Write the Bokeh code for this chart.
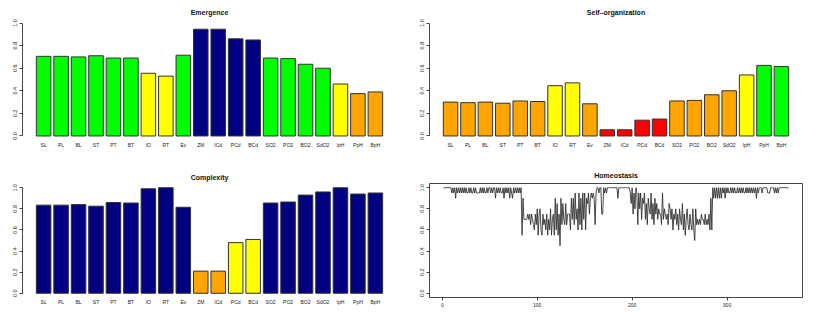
from bokeh.plotting import figure
from bokeh.layouts import gridplot
from bokeh.models import FixedTicker, ColumnDataSource
from bokeh.embed import file_html
from bokeh.resources import INLINE

categories = ["SL", "PL", "BL", "ST", "PT", "BT", "IO", "RT", "Ev", "ZM", "ICd",
              "PCd", "BCd", "SO2", "PO2", "BO2", "SdO2", "IpH", "PpH", "BpH"]

emergence = [0.705, 0.705, 0.70, 0.71, 0.69, 0.69, 0.555, 0.53, 0.715, 0.945, 0.945,
             0.86, 0.85, 0.69, 0.685, 0.635, 0.60, 0.46, 0.375, 0.39]
emergence_col = ["g", "g", "g", "g", "g", "g", "y", "y", "g", "n", "n",
                 "n", "n", "g", "g", "g", "g", "y", "o", "o"]

selforg = [0.30, 0.295, 0.30, 0.29, 0.31, 0.305, 0.445, 0.47, 0.285, 0.055, 0.055,
           0.14, 0.15, 0.31, 0.315, 0.365, 0.40, 0.54, 0.625, 0.615]
selforg_col = ["o", "o", "o", "o", "o", "o", "y", "y", "o", "r", "r",
               "r", "r", "o", "o", "o", "o", "y", "g", "g"]

complexity = [0.835, 0.835, 0.84, 0.825, 0.86, 0.855, 0.99, 1.0, 0.815, 0.21, 0.21,
              0.48, 0.51, 0.855, 0.865, 0.93, 0.96, 1.0, 0.94, 0.95]
complexity_col = ["n", "n", "n", "n", "n", "n", "n", "n", "n", "o", "o",
                  "y", "y", "n", "n", "n", "n", "n", "n", "n"]

homeo_1 = [1.0, 1.0, 1.0, 1.0, 1.0, 1.0, 1.0, 1.0, 1.0, 0.95,
           1.0, 0.95, 1.0, 0.9, 1.0, 0.95, 1.0, 0.95, 1.0, 0.95,
           1.0, 0.95, 1.0, 0.95, 1.0, 0.95, 0.95, 1.0, 0.95, 1.0,
           0.95, 0.95, 1.0, 0.95, 1.0, 0.95, 0.95, 0.95, 0.95, 1.0,
           0.95, 1.0, 0.95, 1.0, 0.95, 0.95, 1.0, 0.95, 1.0, 1.0,
           0.95, 1.0, 0.95, 1.0, 1.0, 0.9, 1.0, 0.95, 1.0, 0.95,
           1.0, 0.95, 0.95, 1.0, 0.9, 1.0, 0.95, 1.0, 0.95, 1.0,
           0.9, 1.0, 0.95, 0.9, 1.0, 0.95, 1.0, 0.95, 1.0, 0.95,
           1.0, 0.95, 1.0]
homeo_2 = [0.55, 0.9, 0.7, 0.7, 0.7, 0.7, 0.75, 0.7, 0.75, 0.65,
           0.75, 0.7, 0.65, 0.6, 0.75, 0.65, 0.8, 0.55, 0.75, 0.8,
           0.6, 0.55, 0.75, 0.65, 0.7, 0.6, 0.75, 0.55, 0.7, 0.6,
           0.8, 0.55, 0.7, 0.75, 0.55, 0.9, 0.6, 0.85, 0.55, 0.75,
           0.45, 0.9, 0.65, 0.85, 0.7, 0.65, 0.85, 0.65, 0.75, 0.75,
           0.75, 0.6, 0.9, 0.7, 0.9, 0.65, 0.95, 0.7, 0.8, 0.6,
           0.95, 0.65, 0.9, 0.6, 0.95, 0.7, 0.95, 0.6, 0.9, 0.85,
           0.95, 0.75, 0.9, 0.95, 0.9, 0.95, 0.9, 0.65, 0.95, 1.0,
           1.0, 0.95]
homeo_3 = [1.0, 1.0, 0.75, 0.75, 1.0, 0.95, 1.0, 0.95, 1.0, 1.0,
           1.0, 1.0, 1.0, 1.0, 1.0, 1.0, 1.0, 1.0, 1.0, 0.9,
           1.0, 1.0, 1.0, 1.0, 1.0, 1.0, 1.0, 1.0, 1.0, 1.0,
           1.0, 1.0, 0.95, 0.85, 1.0, 0.75, 0.95]
homeo_4 = [0.8, 1.0, 0.95, 0.65, 0.95, 0.8, 0.95, 0.7, 0.9, 0.85,
           0.95, 0.7, 0.85, 0.65, 0.9, 0.8, 0.75, 0.95, 0.7, 0.85,
           0.65, 0.9, 0.75, 0.85, 0.7, 0.8, 0.75, 0.75, 0.65, 0.95,
           0.7, 0.8, 0.75, 0.7, 0.75, 0.65, 0.85, 0.8, 0.7, 0.8,
           0.6, 0.75, 0.7, 0.8, 0.65, 0.75, 0.6, 0.8, 0.7, 0.65,
           0.85, 0.6, 0.75, 0.55, 0.7, 0.8, 0.65, 0.6, 0.75, 0.65,
           0.6, 0.8, 0.6, 0.5, 0.8, 0.65, 0.7, 0.65, 0.7, 0.65,
           0.75, 0.7, 0.7, 0.65, 0.75, 0.65, 0.7, 0.65, 0.75, 0.6,
           0.9, 0.6]
homeo_5 = [1.0, 0.9, 1.0, 0.9, 1.0, 0.9, 1.0, 0.9, 1.0, 0.9,
           1.0, 0.95, 1.0, 0.9, 1.0, 0.95, 1.0, 0.95, 0.95, 1.0,
           0.95, 1.0, 0.95, 1.0, 0.95, 0.95, 1.0, 0.95, 1.0, 0.95,
           1.0, 0.95, 1.0, 0.95, 0.95, 1.0, 0.95, 1.0, 0.95, 1.0,
           0.95, 1.0, 0.95, 1.0, 0.95, 1.0, 0.9, 1.0, 0.95, 1.0,
           1.0, 1.0, 0.95, 1.0, 1.0, 1.0, 1.0, 1.0, 0.95, 0.95,
           0.95, 1.0, 1.0, 1.0, 1.0, 0.95, 1.0, 0.95, 1.0, 0.95,
           1.0, 1.0, 1.0, 1.0, 1.0, 1.0, 1.0, 1.0, 1.0, 1.0, 1.0]
homeostasis = homeo_1 + homeo_2 + homeo_3 + homeo_4 + homeo_5
days = list(range(1, len(homeostasis) + 1))

y_ticks = [0.0, 0.2, 0.4, 0.6, 0.8, 1.0]
x_ticks_line = [0, 100, 200, 300]

palette = {"g": "#00FF00", "y": "#FFFF00", "o": "#FFA500", "n": "#000080", "r": "#FF0000"}
FONT = "Liberation Sans"
TXT = "#222222"


def style_common(p, title):
    p.title.text = title
    p.title.align = "center"
    p.title.text_font = FONT
    p.title.text_font_size = "7px"
    p.title.text_font_style = "bold"
    p.title.text_color = "#111111"
    p.title.standoff = 6
    p.title.offset = 0
    p.grid.visible = False
    p.background_fill_color = "white"
    p.border_fill_color = "white"
    yax = p.yaxis[0]
    yax.ticker = FixedTicker(ticks=y_ticks)
    yax.major_label_overrides = {t: "%.1f" % t for t in y_ticks}
    yax.major_label_orientation = "vertical"
    yax.major_label_text_font = FONT
    yax.major_label_text_font_size = "5.5px"
    yax.major_label_text_color = TXT
    yax.major_tick_in = 0
    yax.major_tick_out = 3
    yax.minor_tick_line_color = None
    yax.major_label_standoff = 2
    yax.axis_line_color = "#444444"
    yax.major_tick_line_color = "#444444"


def bar_fig(title, values, cols, w, h, bl, br, bt, bb):
    n = len(values)
    centers = [round(0.7 + 1.2 * k, 4) for k in range(n)]
    lo, hi = 0.2, 1.2 * n
    ext = 0.04 * (hi - lo)
    p = figure(width=w, height=h, x_range=(lo - ext, hi + ext), y_range=(-0.04, 1.04),
               output_backend="svg", toolbar_location=None,
               min_border_left=bl, min_border_right=br, min_border_top=bt, min_border_bottom=bb)
    p.outline_line_color = None
    src = ColumnDataSource(dict(x=centers, top=values, color=[palette[c] for c in cols]))
    p.vbar(x="x", top="top", bottom=0, width=1.0, fill_color="color", line_color="#333333",
           line_width=1, source=src)
    style_common(p, title)
    p.yaxis[0].bounds = (0, 1)
    xax = p.xaxis[0]
    xax.ticker = FixedTicker(ticks=centers)
    xax.major_label_overrides = {c: lab for c, lab in zip(centers, categories)}
    xax.axis_line_color = None
    xax.major_tick_line_color = None
    xax.major_tick_out = 0
    xax.major_tick_in = 0
    xax.minor_tick_line_color = None
    xax.minor_tick_out = 0
    xax.major_label_text_font = FONT
    xax.major_label_text_font_size = "5px"
    xax.major_label_text_color = TXT
    xax.major_label_standoff = 1
    return p


p1 = bar_fig("Emergence", emergence, emergence_col, 407, 163, 22, 11, 18, 23)
p2 = bar_fig("Self\u2013organization", selforg, selforg_col, 407, 163, 22, 11, 18, 23)
p3 = bar_fig("Complexity", complexity, complexity_col, 407, 163, 22, 11, 18, 23)

n = len(homeostasis)
ext = 0.04 * (n - 1)
p4 = figure(width=407, height=163, x_range=(1 - ext, n + ext), y_range=(-0.04, 1.04),
            output_backend="svg", toolbar_location=None,
            min_border_left=22, min_border_right=12, min_border_top=20, min_border_bottom=29)
p4.line(days, homeostasis, line_color="#2a2a2a", line_width=0.85)
style_common(p4, "Homeostasis")
p4.title.standoff = 9
p4.outline_line_color = "#444444"
p4.outline_line_width = 1
p4.yaxis[0].axis_line_color = None
xax = p4.xaxis[0]
xax.ticker = FixedTicker(ticks=x_ticks_line)
xax.axis_line_color = None
xax.major_tick_line_color = "#444444"
xax.major_tick_in = 0
xax.major_tick_out = 3
xax.minor_tick_line_color = None
xax.major_label_text_font = FONT
xax.major_label_text_font_size = "5px"
xax.major_label_text_color = TXT
xax.major_label_standoff = 2

grid = gridplot([[p1, p2], [p3, p4]], toolbar_location=None)

with open("out.html", "w") as f:
    f.write(file_html(grid, INLINE))
